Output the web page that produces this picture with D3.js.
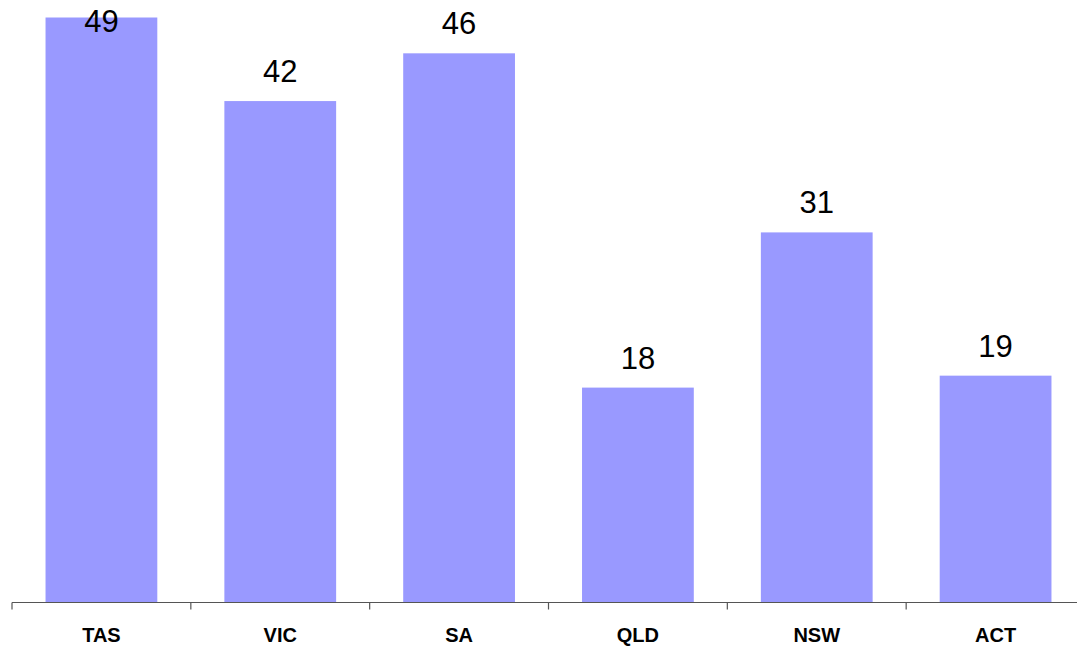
<!DOCTYPE html>
<html lang="en">
<head>
<meta charset="utf-8">
<title>States</title>
<script src="https://cdn.jsdelivr.net/npm/d3@7"></script>
<style>
  body { margin: 0; background: #fff; }
  text { font-family: "Liberation Sans", Arial, sans-serif; }
</style>
</head>
<body>
<script>
// data
var states = ["TAS", "VIC", "SA", "QLD", "NSW", "ACT"];
var values = [49, 42, 46, 18, 31, 19];

var width = 1077, height = 647;
var baseY = 602.5;

var svg = d3.select("body").append("svg")
  .attr("width", width)
  .attr("height", height);

// band scale runs a bit past the right edge, like the original
var x = d3.scaleBand().domain(states).range([12, 1085]).padding(0);
var y = d3.scaleLinear().domain([0, 49]).range([baseY, 17.5]);

var barW = x.bandwidth() * 0.625;

svg.selectAll("rect.bar")
  .data(values)
  .enter()
  .append("rect")
  .attr("class", "bar")
  .attr("x", function(d, i){ return x(states[i]) + (x.bandwidth() - barW) / 2; })
  .attr("y", function(d){ return y(d); })
  .attr("width", barW)
  .attr("height", function(d){ return baseY - y(d); })
  .attr("fill", "#9999ff");

// value labels (pushed down when they would leave the top)
svg.selectAll("text.val")
  .data(values)
  .enter()
  .append("text")
  .attr("class", "val")
  .attr("x", function(d, i){ return x(states[i]) + x.bandwidth() / 2; })
  .attr("y", function(d){ return Math.max(y(d) - 19, 32); })
  .attr("text-anchor", "middle")
  .attr("font-size", "31px")
  .attr("fill", "#000")
  .text(function(d){ return d; });

// x axis
var axis = d3.axisBottom(x).tickSize(0).tickPadding(0);
var g = svg.append("g").attr("transform", "translate(0," + baseY + ")");
g.append("line")
  .attr("x1", 12).attr("x2", 1085)
  .attr("stroke", "#555").attr("stroke-width", 1.2);

// tick marks between categories
var edges = states.map(function(s){ return x(s); });
g.selectAll("line.tk")
  .data(edges)
  .enter()
  .append("line")
  .attr("class", "tk")
  .attr("x1", function(d){ return d; })
  .attr("x2", function(d){ return d; })
  .attr("y1", 0).attr("y2", 7)
  .attr("stroke", "#555").attr("stroke-width", 1.2);

g.selectAll("text.cat")
  .data(states)
  .enter()
  .append("text")
  .attr("class", "cat")
  .attr("x", function(d){ return x(d) + x.bandwidth() / 2; })
  .attr("y", 39.5)
  .attr("text-anchor", "middle")
  .attr("font-size", "20px")
  .attr("font-weight", "bold")
  .attr("fill", "#000")
  .text(function(d){ return d; });
</script>
</body>
</html>
